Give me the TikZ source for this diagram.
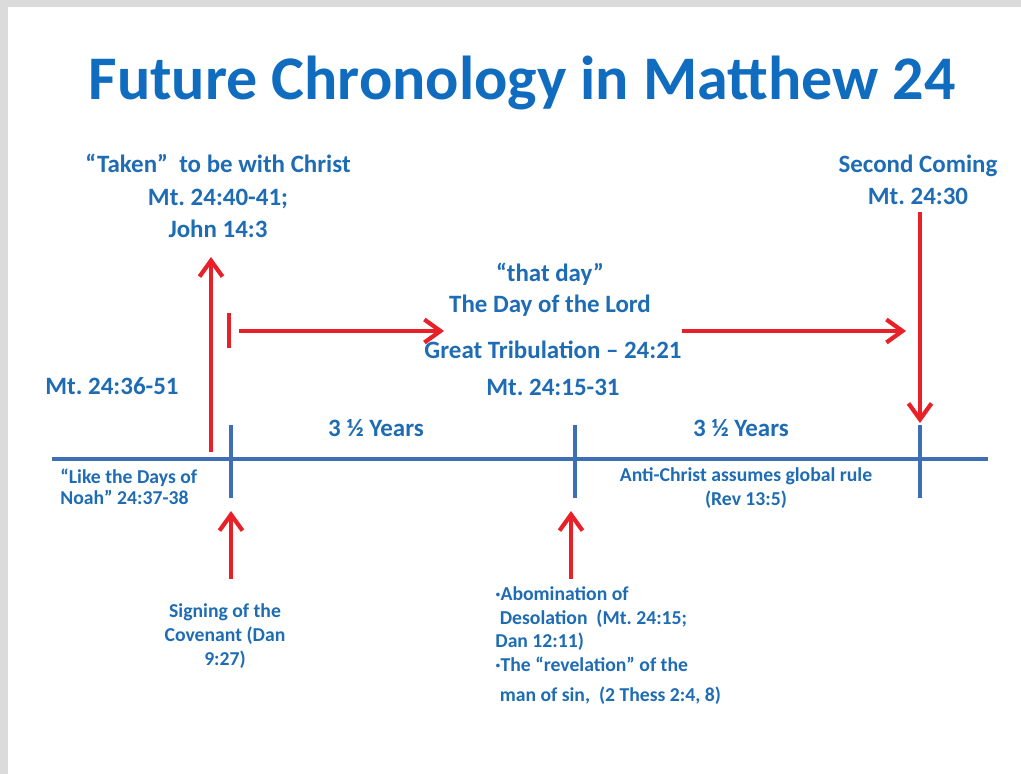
\documentclass[tikz,border=0pt]{standalone}
\usepackage{fontspec}
\setmainfont{Carlito}
\usepackage{xcolor}
\usepackage{tikz}
\usetikzlibrary{arrows.meta,positioning}
\frenchspacing

\definecolor{titleblue}{RGB}{16,108,190}
\definecolor{textblue}{RGB}{30,108,180}
\definecolor{lineblue}{RGB}{62,110,182}
\definecolor{arrowred}{RGB}{232,32,40}

\tikzset{
  midtext/.style={text=textblue, font=\bfseries\fontsize{14.2}{18.4}\selectfont, align=center, inner sep=0pt},
  smalltext/.style={text=textblue, font=\bfseries\fontsize{11.2}{13.6}\selectfont, inner sep=0pt},
  timeline/.style={lineblue, line width=2.4pt},
  redline/.style={arrowred, line width=2.4pt},
  redarrow/.style={redline, -{Straight Barb[length=3.2mm,width=4.6mm]}},
}

\begin{document}
\begin{tikzpicture}[x=0.02cm,y=-0.02cm]
    % Frame
    \fill[gray!28] (0,0) rectangle (1021,774);
    \fill[white] (8,7) rectangle (1021,774);
    \useasboundingbox (0,0) rectangle (1021,774);

    % Title
    \node[font=\bfseries\fontsize{35.3}{40}\selectfont, text=titleblue, inner sep=0pt] (title) at (522,83) {Future Chronology in Matthew 24};

    % Timeline
    \coordinate (start) at (52,459);
    \coordinate (end) at (988,459);
    \draw[timeline] (start) -- (end);
    \foreach \x in {231,575,920}{
        \draw[timeline] (\x,425) -- (\x,498);
    }

    % Labels above
    \node[midtext] (taken) at (218,196) {``Taken''\ \ to be with Christ\\Mt. 24:40-41;\\John 14:3};
    \node[midtext] (second) at (918,180) {Second Coming\\Mt. 24:30};
    \node[midtext, font=\bfseries\fontsize{14.2}{17.6}\selectfont] (thatday) at (550,290) {``that day''\\The Day of the Lord};
    \node[midtext] (tribulation) at (553,350) {Great Tribulation -- 24:21};
    \node[midtext] (refs) at (553,387) {Mt. 24:15-31};
    \node[midtext] (noahref) at (112,386) {Mt. 24:36-51};
    \node[midtext] (firsthalf) at (376,428) {3 ½ Years};
    \node[midtext] (secondhalf) at (741,428) {3 ½ Years};

    % Labels below
    \node[smalltext, align=left, anchor=west, font=\bfseries\fontsize{11.2}{12}\selectfont] (noah) at (60,487) {``Like the Days of\\Noah'' 24:37-38};
    \node[smalltext, align=center] (antichrist) at (746,488) {Anti-Christ assumes global rule\\(Rev 13:5)};
    \node[smalltext, align=center] (covenant) at (225,636) {Signing of the\\Covenant (Dan\\9:27)};
    \node[smalltext, align=left, anchor=north west] (abomination) at (495,586)
        {·Abomination of\\\ Desolation\ \ (Mt. 24:15;\\Dan 12:11)\\·The ``revelation'' of the\\[3pt]\ man of sin,\ \ (2 Thess 2:4, 8)};

    % Arrows
    \coordinate (takenbase) at (211,452);
    \coordinate (takenfoot) at (211,257);
    \draw[redarrow] (takenbase) -- (takenfoot);

    \coordinate (bartop) at (229,313);
    \coordinate (barbot) at (229,348);
    \draw[redline] (bartop) -- (barbot);
    \coordinate (dayleft) at (239,331);
    \coordinate (daymid) at (444,331);
    \coordinate (dayright) at (682,331);
    \coordinate (dayend) at (906,331);
    \draw[redarrow] (dayleft) -- (daymid);
    \draw[redarrow] (dayright) -- (dayend);

    \coordinate (secondfoot) at (920,212);
    \coordinate (secondhead) at (920,423);
    \draw[redarrow] (secondfoot) -- (secondhead);

    \coordinate (covenanttop) at (231,579);
    \coordinate (covenanthead) at (231,511);
    \draw[redarrow] (covenanttop) -- (covenanthead);
    \coordinate (abomtop) at (571,579);
    \coordinate (abomhead) at (571,511);
    \draw[redarrow] (abomtop) -- (abomhead);
\end{tikzpicture}
\end{document}
